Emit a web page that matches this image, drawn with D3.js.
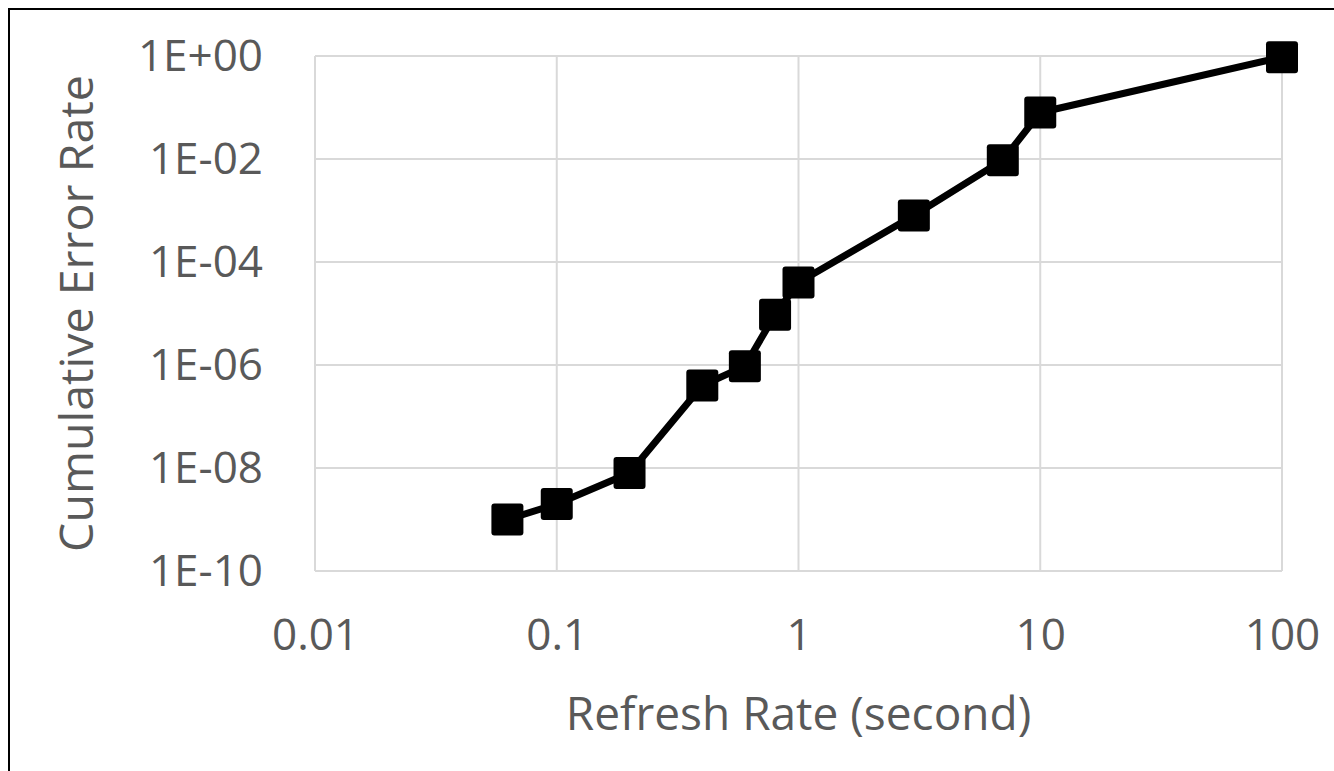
<!DOCTYPE html>
<html>
<head>
<meta charset="utf-8">
<script src="https://cdn.jsdelivr.net/npm/d3@7"></script>
<style>
  body { margin: 0; background: #fff; }
  text { font-family: "Open Sans", sans-serif; fill: #595959; }
</style>
</head>
<body>
<svg id="chart"></svg>
<script>
// data
const refreshRate = [0.0625, 0.1, 0.2, 0.4, 0.6, 0.8, 1, 3, 7, 10, 100];
const errorRate   = [1e-9, 2e-9, 8e-9, 4e-7, 9.5e-7, 9.5e-6, 4e-5, 8e-4, 9.5e-3, 8e-2, 0.95];
const xTicks = [0.01, 0.1, 1, 10, 100];
const xTickLabels = ['0.01', '0.1', '1', '10', '100'];
const yTicks = [1e-10, 1e-8, 1e-6, 1e-4, 1e-2, 1];
const yTickLabels = ['1E-10', '1E-08', '1E-06', '1E-04', '1E-02', '1E+00'];

const width = 1334, height = 771;
const margin = {top: 56, right: 52, bottom: 200, left: 315};

const svg = d3.select('#chart')
    .attr('width', width)
    .attr('height', height);

// outer frame
svg.append('rect')
    .attr('x', 9).attr('y', 9)
    .attr('width', width + 20).attr('height', height + 20)
    .attr('fill', 'none')
    .attr('stroke', '#000')
    .attr('stroke-width', 2);

const x = d3.scaleLog()
    .domain([0.01, 100])
    .range([margin.left, width - margin.right]);

const y = d3.scaleLog()
    .domain([1e-10, 1])
    .range([height - margin.bottom, margin.top]);

// grid
svg.append('g')
    .selectAll('line')
    .data(xTicks)
    .join('line')
    .attr('x1', d => x(d)).attr('x2', d => x(d))
    .attr('y1', y(1e-10)).attr('y2', y(1))
    .attr('stroke', '#d9d9d9')
    .attr('stroke-width', 2);

svg.append('g')
    .selectAll('line')
    .data(yTicks)
    .join('line')
    .attr('x1', x(0.01)).attr('x2', x(100))
    .attr('y1', d => y(d)).attr('y2', d => y(d))
    .attr('stroke', '#d9d9d9')
    .attr('stroke-width', 2);

// axes (labels only)
const xAxis = d3.axisBottom(x)
    .tickValues(xTicks)
    .tickFormat((d, i) => xTickLabels[i])
    .tickSize(0)
    .tickPadding(48);

const yAxis = d3.axisLeft(y)
    .tickValues(yTicks)
    .tickFormat((d, i) => yTickLabels[i])
    .tickSize(0)
    .tickPadding(52);

const gx = svg.append('g')
    .attr('transform', `translate(0, ${y(1e-10)})`)
    .call(xAxis);
const gy = svg.append('g')
    .attr('transform', `translate(${x(0.01)}, 0)`)
    .call(yAxis);

[gx, gy].forEach(g => {
    g.select('.domain').remove();
    g.selectAll('text')
        .style('font-family', '"Open Sans", sans-serif')
        .style('font-size', '44px')
        .attr('fill', '#595959');
});

// axis titles
svg.append('text')
    .attr('x', x(1))
    .attr('y', 730)
    .attr('text-anchor', 'middle')
    .style('font-size', '46px')
    .text('Refresh Rate (second)');

svg.append('text')
    .attr('transform', `translate(93, ${(y(1) + y(1e-10)) / 2}) rotate(-90)`)
    .attr('text-anchor', 'middle')
    .style('font-size', '46.5px')
    .text('Cumulative Error Rate');

// series
const pts = refreshRate.map((r, i) => ({r: r, e: errorRate[i]}));

svg.append('path')
    .datum(pts)
    .attr('fill', 'none')
    .attr('stroke', '#000')
    .attr('stroke-width', 7)
    .attr('stroke-linejoin', 'round')
    .attr('d', d3.line().x(d => x(d.r)).y(d => y(d.e)));

const s = 32;
svg.append('g')
    .selectAll('rect')
    .data(pts)
    .join('rect')
    .attr('x', d => x(d.r) - s / 2)
    .attr('y', d => y(d.e) - s / 2)
    .attr('width', s).attr('height', s)
    .attr('rx', 3)
    .attr('fill', '#000');
</script>
</body>
</html>
